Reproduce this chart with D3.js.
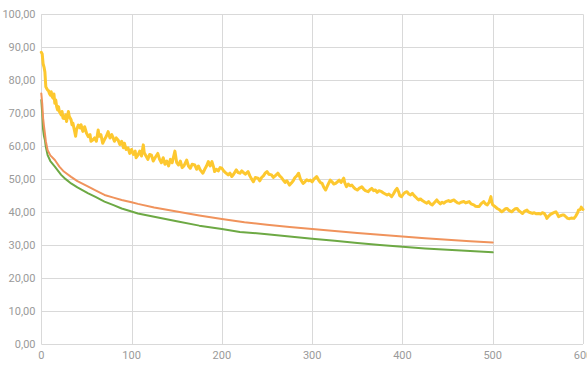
<!DOCTYPE html>
<html><head><meta charset="utf-8">
<script src="https://cdn.jsdelivr.net/npm/d3@7"></script>
<style>body{margin:0;background:#fff}svg{display:block}</style>
</head><body>
<svg id="chart" width="587" height="365"></svg>
<script>
const yTicks = [0,10,20,30,40,50,60,70,80,90,100];
const xTicks = [0,100,200,300,400,500,600];

const yellowX = [0,1,2,3,4,5,6,7,8,9,10,11,12,13,14,15,16,17,18,19,20,22,23,24,26,27,28,30,31,33,34,35,37,38,39,41,43,44,46,48,50,52,54,55,57,59,61,63,64,66,68,70,72,74,76,78,79,81,83,85,87,89,91,92,94,96,98,100,102,104,105,107,109,111,113,114,116,118,120,122,124,126,129,131,133,135,137,139,141,143,145,148,150,152,154,156,158,161,163,165,167,170,172,174,176,179,181,183,185,187,189,191,192,194,196,198,200,202,204,207,209,211,213,216,218,220,222,224,226,229,231,233,235,237,240,242,244,246,248,250,252,255,257,259,262,264,266,268,270,272,275,277,279,281,283,285,287,290,292,294,296,298,300,302,305,307,309,311,313,315,317,320,322,324,326,328,330,332,335,336,338,340,342,344,346,348,350,352,355,357,359,362,364,366,368,370,372,374,377,379,381,383,385,388,390,392,394,396,397,399,401,403,405,407,409,411,413,416,418,420,422,425,427,429,431,433,435,438,440,442,444,446,448,451,453,455,457,459,461,463,465,468,470,472,474,476,479,481,483,485,487,490,492,494,496,498,499,500,502,505,507,510,512,514,516,518,521,523,525,527,529,531,533,535,538,540,542,544,546,548,551,553,555,557,559,560,562,564,566,568,570,572,573,575,577,579,581,583,585,587,590,592,594,595,597,598,599,600];
const yellowY = [88.5,88.0,85.0,84.0,82.5,78.0,77.5,77.0,76.8,76.0,75.5,76.5,75.0,74.6,75.8,73.0,74.0,72.0,71.0,72.0,70.5,69.5,70.5,68.5,68.4,69.5,67.5,70.5,69.0,68.0,66.5,67.0,64.4,63.0,65.0,66.4,65.5,66.5,64.5,65.9,64.0,62.9,63.5,61.5,61.9,62.5,61.5,64.9,63.0,63.5,60.9,62.0,63.0,64.4,62.5,63.5,62.9,61.5,62.5,61.9,60.5,61.5,59.5,60.9,59.0,59.5,57.8,59.0,57.5,58.5,56.5,57.3,58.5,57.0,60.4,58.0,57.0,56.0,57.5,57.3,55.5,56.5,57.8,56.0,55.0,56.5,54.5,55.5,54.0,56.0,55.0,58.5,55.0,54.3,55.5,53.5,54.0,55.8,54.0,53.3,54.5,54.3,53.0,54.0,52.8,51.8,53.0,54.0,55.3,54.0,55.3,53.5,52.3,53.0,52.5,53.5,53.3,52.5,52.0,51.3,51.8,50.8,51.5,52.8,52.0,51.8,52.5,52.0,51.5,52.3,51.0,50.0,49.2,50.5,50.3,49.5,50.5,51.0,51.8,52.3,51.5,51.3,50.5,51.0,51.8,51.0,50.5,49.7,49.0,49.5,48.2,48.8,49.5,50.5,51.0,51.8,50.0,48.7,49.2,49.8,49.5,49.7,49.2,50.0,50.8,49.8,49.0,48.7,47.5,46.7,48.0,49.7,49.2,48.5,48.7,49.2,49.7,49.0,50.3,49.0,47.7,48.5,48.0,48.2,47.5,47.0,46.7,47.2,47.7,47.0,46.5,46.2,46.8,47.2,46.5,46.7,46.0,46.5,46.2,45.8,45.5,45.2,45.5,44.7,45.5,46.5,47.2,46.0,45.0,44.7,45.5,46.0,46.2,45.5,45.2,45.7,45.0,44.2,43.7,44.0,43.5,43.0,42.7,43.2,42.5,42.2,42.8,43.7,43.0,42.5,43.0,42.7,43.2,43.5,43.2,43.5,43.7,43.2,42.8,42.7,43.0,43.2,42.8,43.0,43.2,42.5,42.2,41.8,41.7,41.7,42.5,43.2,42.5,42.2,43.0,44.7,43.0,42.2,41.8,41.1,40.8,40.1,40.5,41.0,41.1,40.5,40.1,40.6,41.0,41.1,40.4,40.0,39.6,40.2,40.6,40.0,39.8,39.6,39.8,39.5,39.6,39.4,39.8,39.6,38.8,38.1,38.8,39.3,39.6,39.9,40.1,39.2,38.6,38.9,39.1,39.1,38.6,38.1,38.0,38.2,38.1,38.8,39.8,40.6,40.8,41.5,41.1,40.8];

const orangeX = [0,1,2,3,4,5,7,10,15,20,25,33,40,52,60,70,80,89,100,107,125,150,175,200,225,250,275,300,325,350,375,400,425,450,475,500];
const orangeY = [76,73,68.5,66,63.9,61.5,58.8,57.2,55.8,53.8,52.3,50.7,49.4,47.7,46.6,45.2,44.4,43.7,43.0,42.5,41.4,40.2,39.0,37.9,36.9,36.2,35.5,34.9,34.3,33.7,33.1,32.6,32.1,31.6,31.2,30.8];

const greenX = [0,1,2,3,4,5,7,10,15,22,27,33,40,52,60,70,80,89,100,107,125,150,175,200,220,250,275,300,325,350,375,400,425,450,475,500];
const greenY = [74,70,65,63,61.9,59.8,57.3,55.5,53.8,51.3,50.0,48.7,47.5,45.7,44.6,43.2,42.1,41.1,40.2,39.6,38.6,37.2,35.9,34.9,34.0,33.3,32.6,31.9,31.3,30.6,30.0,29.5,29.0,28.6,28.2,27.8];

const svg = d3.select("#chart");
const x = d3.scaleLinear().domain([0,600]).range([41.3,583]);
const y = d3.scaleLinear().domain([0,100]).range([344,14.3]);
const fmt = v => d3.format(".2f")(v).replace(".", ",");
const gridColor = "#d9d9d9";
const labelColor = "#9a9a9a";
const font = "Roboto, 'DejaVu Sans', sans-serif";

svg.append("g").selectAll("line").data(yTicks).join("line")
  .attr("x1", x(0)).attr("x2", x(600))
  .attr("y1", d => Math.round(y(d)) + 0.5).attr("y2", d => Math.round(y(d)) + 0.5)
  .attr("stroke", gridColor).attr("stroke-width", 1);
svg.append("g").selectAll("line").data(xTicks).join("line")
  .attr("x1", d => Math.round(x(d)) + 0.5).attr("x2", d => Math.round(x(d)) + 0.5)
  .attr("y1", y(100)).attr("y2", y(0))
  .attr("stroke", gridColor).attr("stroke-width", 1);

svg.append("g").selectAll("text").data(yTicks).join("text")
  .attr("x", 35.5).attr("y", d => y(d)).attr("dy", "0.35em")
  .attr("text-anchor", "end").attr("fill", labelColor)
  .style("font-family", font).style("font-size", "11px")
  .text(fmt);
svg.append("g").selectAll("text").data(xTicks).join("text")
  .attr("x", d => x(d)).attr("y", 355.5).attr("dy", "0.35em")
  .attr("text-anchor", "middle").attr("fill", labelColor)
  .style("font-family", font).style("font-size", "11px")
  .text(d => d);

function drawLine(xs, ys, color, w) {
  const pts = xs.map((d, i) => [d, ys[i]]);
  const line = d3.line().x(d => x(d[0])).y(d => y(d[1]));
  svg.append("path").datum(pts).attr("d", line)
    .attr("fill", "none").attr("stroke", color).attr("stroke-width", w)
    .attr("stroke-linejoin", "round").attr("stroke-linecap", "round");
}
drawLine(greenX, greenY, "#6DA944", 2);
drawLine(orangeX, orangeY, "#F0935C", 2);
drawLine(yellowX, yellowY, "#FDC82F", 3);
</script>
</body></html>
